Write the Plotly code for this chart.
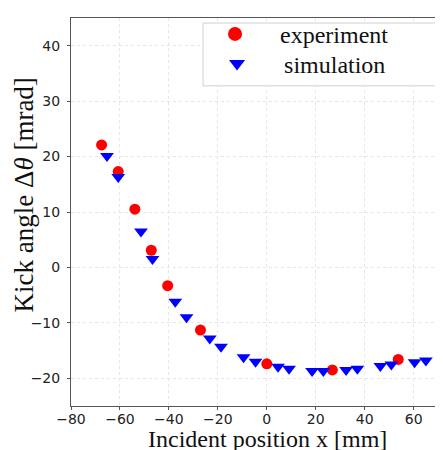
import plotly.graph_objects as go

exp_x = [-67.5, -60.7, -53.9, -47.2, -40.5, -27.1, 0.0, 26.8, 53.7]
exp_y = [22.1, 17.3, 10.5, 3.1, -3.3, -11.3, -17.4, -18.5, -16.6]

sim_x = [-65.3, -60.7, -51.4, -46.7, -37.4, -32.8, -23.3, -18.7, -9.5, -4.6,
         4.6, 9.1, 18.5, 23.1, 32.4, 37.0, 46.4, 50.9, 60.4, 65.0]
sim_y = [20.1, 16.3, 6.5, 1.5, -6.2, -9.0, -12.8, -14.3, -16.2, -17.0,
         -17.9, -18.3, -18.7, -18.7, -18.5, -18.3, -17.8, -17.5, -17.1, -16.8]

x_ticks = [-80, -60, -40, -20, 0, 20, 40, 60]
y_ticks = [-20, -10, 0, 10, 20, 30, 40]

RED = "#ff0000"
BLUE = "#0000ff"

fig = go.Figure()
fig.add_trace(go.Scatter(x=exp_x, y=exp_y, mode="markers", name="experiment",
                         showlegend=False,
                         marker=dict(symbol="circle", size=11, color=RED)))
fig.add_trace(go.Scatter(x=sim_x, y=sim_y, mode="markers", name="simulation",
                         showlegend=False,
                         marker=dict(symbol="triangle-down", size=12, color=BLUE)))
# legend entries (larger symbols, as in the reference legend)
fig.add_trace(go.Scatter(x=[None], y=[None], mode="markers", name="experiment",
                         legend="legend",
                         marker=dict(symbol="circle", size=14, color=RED)))
fig.add_trace(go.Scatter(x=[None], y=[None], mode="markers", name="simulation",
                         legend="legend2",
                         marker=dict(symbol="triangle-down", size=14, color=BLUE)))

axis_common = dict(
    showgrid=True, gridcolor="#e6e6e6", griddash="dot", gridwidth=1,
    showline=True, linecolor="#555555", linewidth=1,
    ticks="outside", ticklen=3, tickcolor="#555555",
    tickfont=dict(family="DejaVu Sans", size=14, color="#222222"),
    zeroline=False,
)

legend_font = dict(family="Liberation Serif", size=24, color="#111111")

# the page body has an 8px default margin, so the figure is laid out 8px up/left
fig.update_layout(
    width=443, height=450,
    margin=dict(l=63, r=8, t=4, b=52),
    paper_bgcolor="white", plot_bgcolor="white",
    xaxis=dict(range=[-80, 72], tickvals=x_ticks, mirror=True,
               ticklabelstandoff=-3, **axis_common),
    yaxis=dict(range=[-25, 45], tickvals=y_ticks, mirror=False,
               ticklabelstandoff=4, **axis_common),
    showlegend=True,
    legend=dict(x=0.320, y=0.958, xanchor="left", yanchor="middle",
                bgcolor="rgba(0,0,0,0)", borderwidth=0,
                font=legend_font, itemwidth=80),
    legend2=dict(x=0.320, y=0.882, xanchor="left", yanchor="middle",
                 bgcolor="rgba(0,0,0,0)", borderwidth=0,
                 font=legend_font, itemwidth=84),
    shapes=[
        dict(type="rect", xref="paper", yref="paper",
             x0=0.355, x1=0.997, y0=0.825, y1=0.987,
             line=dict(color="#d0d0d0", width=1),
             fillcolor="rgba(255,255,255,0.85)", layer="above"),
    ],
    annotations=[
        dict(text="Incident position x [mm]", xref="paper", yref="paper",
             x=0.527, y=-0.046, xanchor="center", yanchor="top", showarrow=False,
             font=dict(family="Liberation Serif", size=24, color="#111111")),
        dict(text="Kick angle Δ<i>θ</i> [mrad]", xref="paper", yref="paper",
             x=-0.126, y=0.543, xanchor="center", yanchor="middle", showarrow=False,
             textangle=-90,
             font=dict(family="Liberation Serif", size=27, color="#111111")),
    ],
)

fig.write_html("out.html")
